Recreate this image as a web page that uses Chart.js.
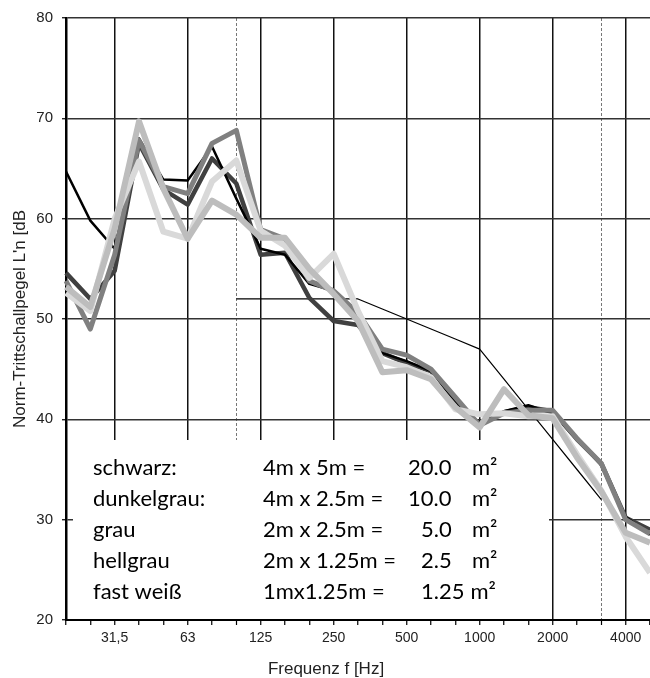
<!DOCTYPE html>
<html>
<head>
<meta charset="utf-8">
<script src="https://cdn.jsdelivr.net/npm/chart.js@4.4.1/dist/chart.umd.min.js"></script>
<style>
  body { margin: 0; background: #fff; }
  canvas { display: block; }
</style>
</head>
<body>
<canvas id="chart" width="650" height="678"></canvas>
<script>
// third-octave bands, 20 Hz .. 5000 Hz
const bands = ['20', '25', '31,5', '40', '50', '63', '80', '100', '125', '160', '200', '250', '315',
    '400', '500', '630', '800', '1000', '1250', '1600', '2000', '2500', '3150', '4000', '5000'];
const tickLabels = ['31,5', '63', '125', '250', '500', '1000', '2000', '4000'];
const dashedBands = ['100', '3150'];

const schwarz = [64.7, 59.8, 57.0, 68.0, 63.9, 63.8, 67.2, 62.0, 57.0, 56.4, 53.5, 52.8, 50.1,
    46.6, 45.8, 44.8, 41.8, 39.6, 40.8, 41.4, 40.6, 38.0, 35.4, 30.3, 28.5];
const dunkelgrau = [54.6, 52.0, 54.8, 67.5, 62.9, 61.4, 66.0, 63.5, 56.4, 56.6, 52.1, 49.8, 49.4,
    46.6, 45.6, 44.8, 41.6, 39.5, 40.7, 41.2, 40.8, 38.0, 35.6, 30.2, 29.0];
const grau = [53.8, 49.0, 56.4, 67.8, 63.2, 62.5, 67.5, 68.8, 58.9, 58.0, 53.8, 52.8, 50.6,
    47.0, 46.4, 45.0, 42.2, 39.4, 40.6, 40.9, 40.9, 38.1, 35.6, 30.0, 28.6];
const hellgrau = [53.2, 51.2, 59.0, 69.7, 63.0, 58.0, 61.8, 60.4, 58.1, 58.1, 55.0, 52.5, 49.8,
    44.7, 44.9, 44.0, 41.2, 39.2, 43.0, 40.4, 40.1, 36.2, 32.8, 28.7, 27.7];
const fastWeiss = [52.6, 50.8, 60.0, 65.7, 58.7, 58.0, 63.7, 65.8, 58.8, 57.3, 54.1, 56.5, 50.8,
    45.8, 45.2, 44.2, 41.0, 40.5, 40.6, 40.3, 40.3, 36.5, 32.9, 28.3, 24.7];
// shifted reference curve (100 .. 3150 Hz)
const bezugskurve = [null, null, null, null, null, null, null, 52, 52, 52, 52, 52, 52,
    51, 50, 49, 48, 47, 44, 41, 38, 35, 32, null, null];

const legendNames = ['schwarz:', 'dunkelgrau:', 'grau', 'hellgrau', 'fast weiß'];
const legendSizes = ['4m x 5m =', '4m x 2.5m =', '2m x 2.5m =', '2m x 1.25m =', '1mx1.25m ='];
const legendAreas = ['20.0', '10.0', '5.0', '2.5', '1.25'];

const textFont = "'Liberation Sans', Arial, sans-serif";
const boxFont = "Lato, 'Open Sans', sans-serif";

const extras = {
    id: 'extras',
    beforeDatasetsDraw(chart) {
        const ctx = chart.ctx;
        const area = chart.chartArea;
        // white box with the size table, covers the grid
        ctx.save();
        ctx.fillStyle = '#fff';
        ctx.fillRect(area.left + 7, 440, 476, area.bottom - 441);
        ctx.fillStyle = '#000';
        ctx.font = '22px ' + boxFont;
        ctx.textBaseline = 'middle';
        legendNames.forEach((name, i) => {
            const y = 468 + i * 31;
            ctx.fillText(name, 93, y);
            ctx.fillText(legendSizes[i], 263, y);
            const val = legendAreas[i];
            const ax = parseFloat(val) >= 10 ? 408 : 421;
            ctx.fillText(val, ax, y);
            const ux = val.length > 3 && parseFloat(val) < 10 ? ax + ctx.measureText(val).width + 6 : 472;
            ctx.fillText('m²', ux, y);
        });
        ctx.restore();
    },
    afterDraw(chart) {
        const ctx = chart.ctx;
        const area = chart.chartArea;
        ctx.save();
        ctx.fillStyle = '#222';
        ctx.font = '17px ' + textFont;
        ctx.textAlign = 'center';
        ctx.textBaseline = 'middle';
        ctx.fillText('Frequenz f [Hz]', 326, 669);
        ctx.translate(20, (area.top + area.bottom) / 2);
        ctx.rotate(-Math.PI / 2);
        ctx.fillText("Norm-Trittschallpegel L'n [dB", 0, 0);
        ctx.restore();
    }
};

function lineSet(label, data, color, width) {
    return {
        label: label,
        data: data,
        borderColor: color,
        backgroundColor: color,
        borderWidth: width,
        pointRadius: 0,
        tension: 0,
        borderJoinStyle: 'round',
        fill: false
    };
}

new Chart(document.getElementById('chart'), {
    type: 'line',
    data: {
        labels: bands,
        datasets: [
            lineSet('hellgrau', hellgrau, '#bdbdbd', 6),
            lineSet('fast weiß', fastWeiss, '#d9d9d9', 6),
            lineSet('grau', grau, '#808080', 5),
            lineSet('schwarz', schwarz, '#000000', 2.5),
            lineSet('dunkelgrau', dunkelgrau, '#404040', 4.5),
            lineSet('Bezugskurve', bezugskurve, '#000000', 1.2)
        ]
    },
    options: {
        responsive: false,
        devicePixelRatio: 1,
        animation: false,
        layout: { padding: { top: 16, left: 0, right: 0, bottom: 0 } },
        plugins: {
            legend: { display: false },
            tooltip: { enabled: false }
        },
        scales: {
            x: {
                type: 'category',
                offset: false,
                afterFit: (scale) => {
                    scale.height = 58;
                    scale.paddingLeft = 0;
                    scale.paddingRight = 0;
                },
                grid: {
                    offset: false,
                    color: (c) => {
                        const lab = bands[c.index];
                        if (c.index === 0) return 'rgba(0,0,0,0)';
                        if (dashedBands.includes(lab)) return '#777';
                        if (tickLabels.includes(lab)) return '#111';
                        return 'rgba(0,0,0,0)';
                    },
                    lineWidth: (c) => dashedBands.includes(bands[c.index]) ? 1 : 1.5,
                    tickColor: '#000',
                    tickLength: 5,
                    tickWidth: 1.2
                },
                border: {
                    color: '#000',
                    width: 2,
                    dash: (c) => (c.type === 'tick' && dashedBands.includes(bands[c.index])) ? [3, 2] : []
                },
                ticks: {
                    autoSkip: false,
                    maxRotation: 0,
                    padding: 5,
                    color: '#222',
                    font: { family: textFont, size: 14 },
                    callback: (value, index) => tickLabels.includes(bands[index]) ? bands[index] : ''
                }
            },
            y: {
                min: 20,
                max: 80,
                afterFit: (scale) => { scale.width = 66; },
                grid: {
                    color: '#333',
                    lineWidth: 1.5,
                    tickColor: '#000',
                    tickLength: 4,
                    tickWidth: 1.2
                },
                border: { color: '#000', width: 2.5 },
                ticks: {
                    stepSize: 10,
                    padding: 9,
                    color: '#222',
                    font: { family: textFont, size: 15 }
                }
            }
        }
    },
    plugins: [extras]
});
</script>
</body>
</html>
